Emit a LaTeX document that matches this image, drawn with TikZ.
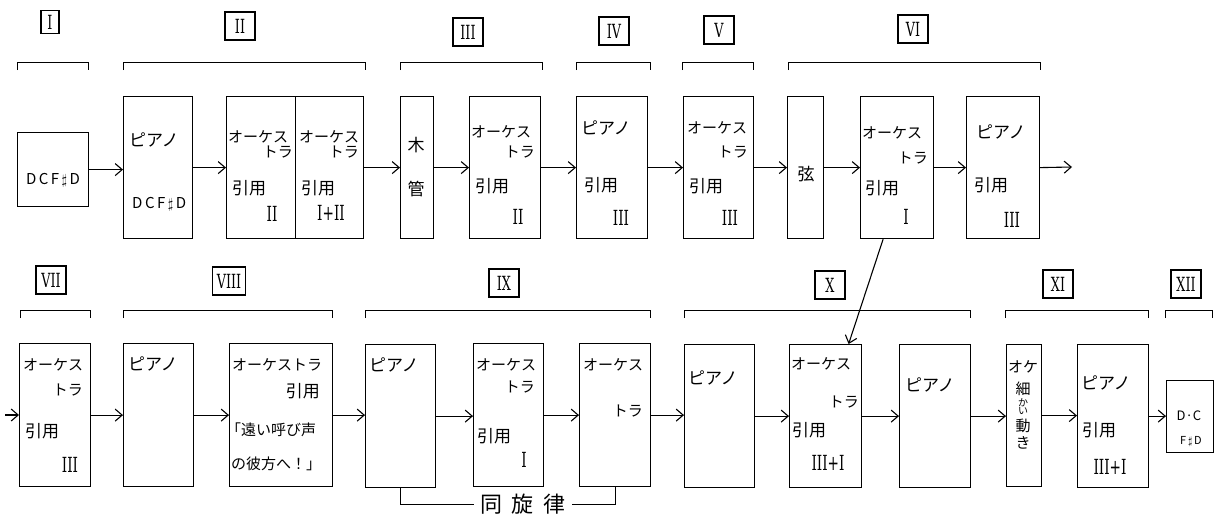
\documentclass[tikz,border=0pt]{standalone}
\usepackage{fontspec}
\usepackage{graphicx}
\newfontfamily\jp{Noto Sans CJK JP}
\newfontfamily\numfont{DejaVu Serif}
\usetikzlibrary{arrows.meta, positioning}

\newcommand\tall[1]{\scalebox{0.85}[1.3]{#1}}

\tikzset{
	blk/.style={draw, line width=1.2pt, inner sep=0pt, anchor=north west},
	brk/.style={line width=1pt},
	arr/.style={->, line width=1.1pt},
	num/.style={draw, line width=1.1pt, font=\numfont\fontsize{15}{16}\selectfont,
		inner xsep=4pt, minimum height=28pt, minimum width=30pt},
	txt/.style={font=\jp\fontsize{15}{17}\selectfont, inner sep=0pt, anchor=west},
	big/.style={txt, font=\jp\fontsize{17}{19}\selectfont},
	rn/.style={inner sep=0pt, font=\numfont\fontsize{16}{17}\selectfont},
}

\begin{document}
\begin{tikzpicture}[x=1pt, y=-1pt, >={Straight Barb[length=7pt,width=12pt]}]
	\useasboundingbox (0,0) rectangle (1232,523);

	% blocks
	\foreach \n/\x/\y/\w/\h in {b1/17/132/71/74, b2/123/96/69/142, b3/226/96/69/142,
		b4/295/96/68/142, b5/400/96/33/142, b6/469/96/71/142, b7/576/96/71/142,
		b8/683/96/70/142, b9/787/96/36/142, b10/860/96/73/142, b11/966/96/73/142,
		c1/19/343/71/143, c2/123/343/70/143, c3/229/343/103/143, c4/365/344/70/143,
		c5/473/343/70/143, c6/579/343/71/143, c7/684/344/70/143, c8/789/344/72/143,
		c9/899/344/71/143, c10/1006/344/35/142, c11/1077/344/71/143, c12/1166/380/47/72}
		\node[blk, minimum width=\w pt, minimum height=\h pt] (\n) at (\x,\y) {};

	% brackets
	\foreach \a/\b/\y in {17/88/62, 123/365/62, 400/542/62, 576/650/62, 682/753/62,
		788/1040/62, 20/90/310, 123/332/310, 365/650/310, 684/970/310,
		1005/1148/310, 1165/1212/310}
		\draw[brk] (\a,\y+8) -- (\a,\y) -- (\b,\y) -- (\b,\y+8);

	% section numbers
	\node[num, minimum width=18pt, minimum height=23pt, inner xsep=2pt] (n1) at (50,22) {\tall{I}};
	\foreach \n/\t/\x/\y in {n2/II/240/26, n3/III/468/32, n4/IV/614/31,
		n5/V/719/30, n6/VI/913/29, n7/VII/51/280, n8/VIII/229/281, n9/IX/504/283,
		n10/X/830/285, n11/XI/1058/284, n12/XII/1186/284}
		\node[num] (\n) at (\x,\y) {\tall{\t}};

	% top row
	\node[txt, anchor=center] (a0) at (53,180) {D\,C\,F\,$\sharp$\,D};
	\node[big] (a1) at (129,140) {ピアノ};
	\node[txt] (a2) at (132,204) {D\,C\,F\,$\sharp$\,D};
	\node[txt] (a3) at (228,137) {オーケス};
	\node[txt, anchor=east] (a4) at (293,152) {トラ};
	\node[big] (a5) at (232,188) {引用};
	\node[rn] (a6) at (272,214) {\tall{II}};
	\node[txt] (a7) at (299,137) {オーケス};
	\node[txt, anchor=east] (a8) at (359,152) {トラ};
	\node[big] (a9) at (301,188) {引用};
	\node[rn] (a10) at (331,213) {\tall{I+II}};
	\node[big, anchor=center] (a11) at (416,145) {木};
	\node[big, anchor=center] (a12) at (416,189) {管};
	\node[txt] (a13) at (471,132) {オーケス};
	\node[txt, anchor=east] (a14) at (535,152) {トラ};
	\node[big] (a15) at (475,186) {引用};
	\node[rn] (a16) at (518,217) {\tall{II}};
	\node[big] (a17) at (581,128) {ピアノ};
	\node[big] (a18) at (584,185) {引用};
	\node[rn] (a19) at (621,218) {\tall{III}};
	\node[txt] (a20) at (687,128) {オーケス};
	\node[txt, anchor=east] (a21) at (748,152) {トラ};
	\node[big] (a22) at (689,186) {引用};
	\node[rn] (a23) at (730,218) {\tall{III}};
	\node[big, anchor=center] (a24) at (806,174) {弦};
	\node[txt] (a25) at (862,133) {オーケス};
	\node[txt, anchor=east] (a26) at (928,158) {トラ};
	\node[big] (a27) at (865,188) {引用};
	\node[rn] (a28) at (906,217) {\tall{I}};
	\node[big] (a29) at (976,132) {ピアノ};
	\node[big] (a30) at (974,185) {引用};
	\node[rn] (a31) at (1012,220) {\tall{III}};

	% bottom row
	\node[txt] (d1) at (23,365) {オーケス};
	\node[txt, anchor=east] (d2) at (83,390) {トラ};
	\node[big] (d3) at (25,431) {引用};
	\node[rn] (d4) at (70,465) {\tall{III}};
	\node[big] (d5) at (128,364) {ピアノ};
	\node[txt] (d6) at (232,365) {オーケストラ};
	\node[big, anchor=east] (d7) at (320,391) {引用};
	\node[txt] (d8) at (226,430) {「遠い呼び声};
	\node[txt] (d9) at (231,464) {の彼方へ！」};
	\node[big] (d10) at (369,365) {ピアノ};
	\node[txt] (d11) at (476,365) {オーケス};
	\node[txt, anchor=east] (d12) at (535,387) {トラ};
	\node[big] (d13) at (477,436) {引用};
	\node[rn] (d14) at (524,460) {\tall{I}};
	\node[txt] (d15) at (583,365) {オーケス};
	\node[txt, anchor=east] (d16) at (643,411) {トラ};
	\node[big] (d17) at (688,378) {ピアノ};
	\node[txt] (d18) at (791,364) {オーケス};
	\node[txt, anchor=east] (d19) at (859,402) {トラ};
	\node[big] (d20) at (792,430) {引用};
	\node[rn] (d21) at (828,463) {\tall{III+I}};
	\node[big] (d22) at (905,385) {ピアノ};
	\node[txt, anchor=north] (k1) at (1023,360) {オケ};
	\node[txt, below=9pt of k1] (k2) {細};
	\node[txt, below=2pt of k2, font=\jp\fontsize{10}{11}\selectfont] (k3) {か};
	\node[txt, below=1pt of k3, font=\jp\fontsize{10}{11}\selectfont] (k4) {い};
	\node[txt, below=4pt of k4] (k5) {動};
	\node[txt, below=3pt of k5] (k6) {き};
	\node[big] (d23) at (1081,383) {ピアノ};
	\node[big] (d24) at (1082,430) {引用};
	\node[rn] (d25) at (1110,467) {\tall{III+I}};
	\node[txt, anchor=center, font=\jp\fontsize{13}{14}\selectfont] (d26) at (1189,416) {D·C};
	\node[txt, anchor=center, font=\jp\fontsize{11}{12}\selectfont] (d27) at (1191,442) {F\,$\sharp$\,D};

	% flow
	\foreach \a/\b in {b1/b2, b2/b3, b4/b5, b5/b6, b6/b7, b7/b8, b8/b9, b9/b10, b10/b11,
		c1/c2, c2/c3, c3/c4, c4/c5, c5/c6, c6/c7, c7/c8, c8/c9, c9/c10, c10/c11, c11/c12}
		\draw[arr] (\a.east) -- (\a.east -| \b.west);
	\coordinate (out) at (1072,167);
	\coordinate (in) at (5,415);
	\draw[arr] (b11.east) -- (out);
	\draw[arr] (in) -- (in -| c1.west);
	\draw[arr] ([xshift=-14pt]b10.south) -- ([xshift=23pt]c8.north);

	% same melody
	\node[txt, anchor=center, inner sep=6pt, font=\jp\fontsize{22}{23}\selectfont]
		(same) at (523,504) {同\hspace{0.45em}旋\hspace{0.45em}律};
	\draw[brk] (c4.south) |- (same.west);
	\draw[brk] (same.east) -| (c6.south);
\end{tikzpicture}
\end{document}
